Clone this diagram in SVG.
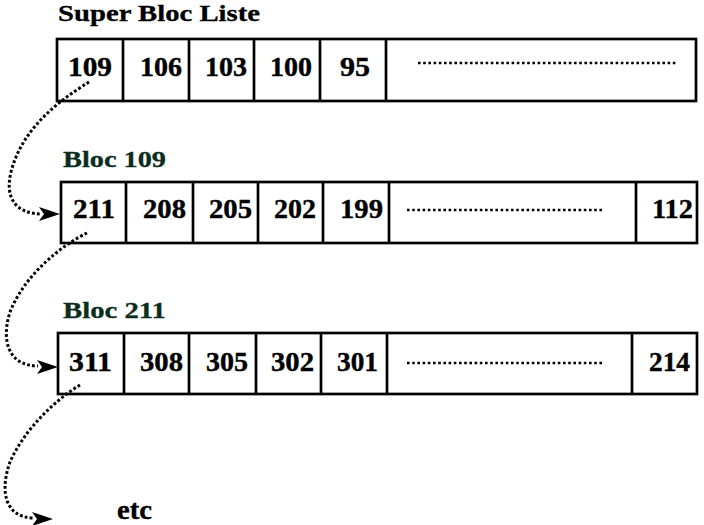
<svg xmlns="http://www.w3.org/2000/svg" width="704" height="525" viewBox="0 0 704 525">
<style>
.box{fill:#fff;stroke:#000;stroke-width:2.7}
.div{stroke:#000;stroke-width:2.7}
.dots{stroke:#000;stroke-width:2.4;stroke-dasharray:2.6 2.6;fill:none}
.conn{stroke:#000;stroke-width:3;stroke-dasharray:2.8 2.2;fill:none}
.head{fill:#000}
text{font-family:"Liberation Serif","Times New Roman",Times,serif;font-weight:bold}
.num{font-size:27px;fill:#000;stroke:#000;stroke-width:0.4}
.title{font-size:23px;fill:#000;stroke:#000;stroke-width:0.3}
.bloc{font-size:24px;fill:#0b2d1c;stroke:#0b2d1c;stroke-width:0.3}
</style>
<rect width="704" height="525" fill="#fff"/>
<g id="title">
<text class="title" x="58" y="20.5" textLength="202" lengthAdjust="spacingAndGlyphs">Super Bloc Liste</text>
</g>
<g id="superbloc">
<rect class="box" x="57" y="39" width="639" height="62"/>
<line class="div" x1="123" y1="39" x2="123" y2="101"/>
<line class="div" x1="189" y1="39" x2="189" y2="101"/>
<line class="div" x1="254" y1="39" x2="254" y2="101"/>
<line class="div" x1="320" y1="39" x2="320" y2="101"/>
<line class="div" x1="386" y1="39" x2="386" y2="101"/>
<line class="dots" x1="418" y1="63" x2="677" y2="63"/>
<text class="num" x="68" y="76" textLength="44" lengthAdjust="spacingAndGlyphs">109</text>
<text class="num" x="140" y="76" textLength="42" lengthAdjust="spacingAndGlyphs">106</text>
<text class="num" x="205" y="76" textLength="42" lengthAdjust="spacingAndGlyphs">103</text>
<text class="num" x="270" y="76" textLength="42" lengthAdjust="spacingAndGlyphs">100</text>
<text class="num" x="340" y="76" textLength="30" lengthAdjust="spacingAndGlyphs">95</text>
</g>
<g id="bloc109">
<text class="bloc" x="63" y="167" textLength="103" lengthAdjust="spacingAndGlyphs">Bloc 109</text>
<rect class="box" x="61" y="182" width="636" height="61"/>
<line class="div" x1="126" y1="182" x2="126" y2="243"/>
<line class="div" x1="193" y1="182" x2="193" y2="243"/>
<line class="div" x1="258" y1="182" x2="258" y2="243"/>
<line class="div" x1="323" y1="182" x2="323" y2="243"/>
<line class="div" x1="389" y1="182" x2="389" y2="243"/>
<line class="div" x1="636" y1="182" x2="636" y2="243"/>
<line class="dots" x1="407" y1="210" x2="603" y2="210"/>
<text class="num" x="73" y="218" textLength="42" lengthAdjust="spacingAndGlyphs">211</text>
<text class="num" x="143" y="218" textLength="43" lengthAdjust="spacingAndGlyphs">208</text>
<text class="num" x="209" y="218" textLength="43" lengthAdjust="spacingAndGlyphs">205</text>
<text class="num" x="274" y="218" textLength="42" lengthAdjust="spacingAndGlyphs">202</text>
<text class="num" x="340" y="218" textLength="43" lengthAdjust="spacingAndGlyphs">199</text>
<text class="num" x="652" y="218" textLength="41" lengthAdjust="spacingAndGlyphs">112</text>
</g>
<g id="bloc211">
<text class="bloc" x="63" y="318" textLength="103" lengthAdjust="spacingAndGlyphs">Bloc 211</text>
<rect class="box" x="58" y="333" width="639" height="61"/>
<line class="div" x1="124" y1="333" x2="124" y2="394"/>
<line class="div" x1="189" y1="333" x2="189" y2="394"/>
<line class="div" x1="256" y1="333" x2="256" y2="394"/>
<line class="div" x1="321" y1="333" x2="321" y2="394"/>
<line class="div" x1="387" y1="333" x2="387" y2="394"/>
<line class="div" x1="632" y1="333" x2="632" y2="394"/>
<line class="dots" x1="407" y1="363" x2="603" y2="363"/>
<text class="num" x="69" y="371" textLength="43" lengthAdjust="spacingAndGlyphs">311</text>
<text class="num" x="140" y="371" textLength="43" lengthAdjust="spacingAndGlyphs">308</text>
<text class="num" x="206" y="371" textLength="42" lengthAdjust="spacingAndGlyphs">305</text>
<text class="num" x="271" y="371" textLength="43" lengthAdjust="spacingAndGlyphs">302</text>
<text class="num" x="337" y="371" textLength="41" lengthAdjust="spacingAndGlyphs">301</text>
<text class="num" x="649" y="371" textLength="41" lengthAdjust="spacingAndGlyphs">214</text>
</g>
<g id="etc">
<text class="num" x="117" y="519" textLength="35" lengthAdjust="spacingAndGlyphs">etc</text>
</g>
<g id="connectors">
<path class="conn" d="M89,82 C60,100 22,128 11,172 C4,200 18,214 42,214"/>
<polygon class="head" points="60,214 39,207 44,214 39,221"/>
<path class="conn" d="M87,233 C60,246 24,276 10,312 C1,340 8,366 38,366"/>
<polygon class="head" points="58,367 37,360 42,367 37,374"/>
<path class="conn" d="M80,385 C55,400 24,430 10,462 C0,490 4,517 33,518"/>
<polygon class="head" points="53,519 32,512 37,519 32,526"/>
</g>
</svg>
